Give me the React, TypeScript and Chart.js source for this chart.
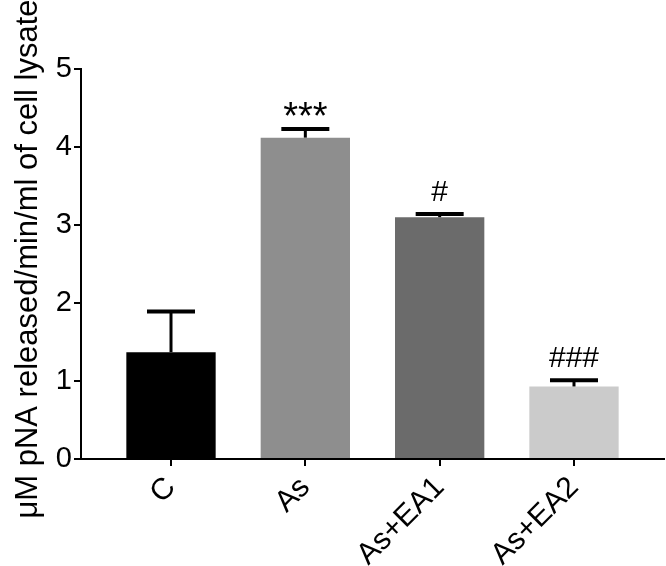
import React, { useEffect, useRef } from "react";
import { Chart, registerables } from "chart.js";

Chart.register(...registerables);

const categories = ["C", "As", "As+EA1", "As+EA2"];
const means = [1.37, 4.12, 3.1, 0.93];
const errors = [0.52, 0.11, 0.04, 0.08];
const annotations = ["", "***", "#", "###"];
const barColors = ["#000000", "#8e8e8e", "#6b6b6b", "#cbcbcb"];
const yTicks = [0, 1, 2, 3, 4, 5];
const yTitle = "μM pNA released/min/ml of cell lysate";

const FONT = "'Liberation Sans', Arial, Helvetica, sans-serif";

export default function App() {
  const ref = useRef<HTMLCanvasElement | null>(null);

  useEffect(() => {
    if (!ref.current) return;
    const extras = {
      id: "extras",
      afterDatasetsDraw(chart: any) {
        const ctx = chart.ctx;
        const xs = chart.scales.x;
        const ys = chart.scales.y;
        ctx.save();
        ctx.strokeStyle = "#000";
        ctx.fillStyle = "#000";
        means.forEach((m, i) => {
          const x = xs.getPixelForValue(i);
          const yb = ys.getPixelForValue(m);
          const yt = ys.getPixelForValue(m + errors[i]);
          ctx.lineWidth = 3;
          ctx.beginPath();
          ctx.moveTo(x, yb);
          ctx.lineTo(x, yt);
          ctx.stroke();
          ctx.lineWidth = 4;
          ctx.beginPath();
          ctx.moveTo(x - 24, yt);
          ctx.lineTo(x + 24, yt);
          ctx.stroke();
          const t = annotations[i];
          if (t) {
            const size = t.includes("*") ? 38 : 30;
            ctx.font = `${size}px ${FONT}`;
            ctx.textAlign = "center";
            ctx.textBaseline = "alphabetic";
            const mt = ctx.measureText(t);
            const desc = mt.actualBoundingBoxDescent || 0;
            ctx.fillText(t, x, yt - 13 - desc);
          }
        });
        // y axis title
        ctx.save();
        ctx.translate(28, 259);
        ctx.rotate(-Math.PI / 2);
        ctx.font = `31px ${FONT}`;
        ctx.textAlign = "center";
        ctx.textBaseline = "middle";
        ctx.fillText(yTitle, 0, 0);
        ctx.restore();
        ctx.restore();
      },
    };

    const chart = new Chart(ref.current, {
      type: "bar",
      data: {
        datasets: [
          {
            data: means.map((v, i) => ({ x: i, y: v })),
            backgroundColor: barColors,
            borderWidth: 0,
            categoryPercentage: 1,
            barPercentage: 0.665,
          },
        ],
      },
      options: {
        responsive: false,
        animation: false,
        layout: { padding: { top: 69, right: 2, left: 0, bottom: 0 } },
        plugins: {
          legend: { display: false },
          tooltip: { enabled: false },
          title: { display: false },
        },
        scales: {
          x: {
            type: "linear",
            offset: false,
            min: -0.67,
            max: 3.67,
            afterFit(scale: any) {
              scale.height = 107;
            },
            afterBuildTicks(scale: any) {
              scale.ticks = categories.map((_, i) => ({ value: i }));
            },
            grid: {
              offset: false,
              drawOnChartArea: false,
              drawTicks: true,
              tickLength: 7,
              color: "#000",
              lineWidth: 2,
            },
            border: { display: true, color: "#000", width: 2 },
            ticks: {
              autoSkip: false,
              maxRotation: 45,
              minRotation: 45,
              padding: 4,
              color: "#000",
              font: { family: FONT, size: 30 },
              callback: (v: any) => categories[Math.round(Number(v))] ?? "",
            },
          },
          y: {
            min: 0,
            max: 5,
            afterFit(scale: any) {
              scale.width = 81;
            },
            afterBuildTicks(scale: any) {
              scale.ticks = yTicks.map((v) => ({ value: v }));
            },
            grid: {
              drawOnChartArea: false,
              drawTicks: true,
              tickLength: 7,
              color: "#000",
              lineWidth: 2,
            },
            border: { display: true, color: "#000", width: 2 },
            ticks: {
              padding: 2,
              color: "#000",
              font: { family: FONT, size: 29 },
            },
          },
        },
      },
      plugins: [extras],
    });
    return () => chart.destroy();
  }, []);

  return (
    <div style={{ position: "absolute", left: 0, top: 0, width: 666, height: 566, background: "#fff" }}>
      <canvas ref={ref} width={666} height={566} />
    </div>
  );
}
